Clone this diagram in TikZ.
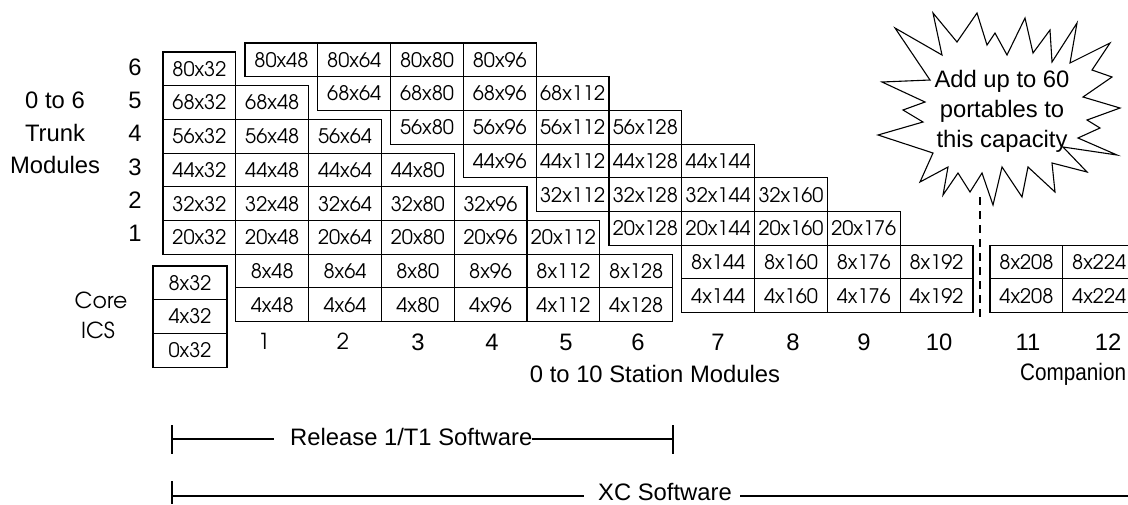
\documentclass[tikz,border=0pt]{standalone}
\usepackage{fontspec}
\usepackage{graphicx}
\setmainfont{Liberation Sans}
\newfontfamily\adv{TeX Gyre Adventor}
\begin{document}
\begin{tikzpicture}[x=1pt,y=-1pt,
  cell/.style={draw, anchor=north west, minimum width=72.8pt, minimum height=33.7pt,
    inner sep=0pt, outer sep=0pt, line width=1.1pt, font=\adv\fontsize{20}{20}\selectfont},
  corecell/.style={cell, minimum width=74pt},
  lab/.style={inner sep=0pt, font=\fontsize{23.8}{30}\selectfont},
  glab/.style={inner sep=0pt, font=\adv\fontsize{22}{30}\selectfont},
  rule/.style={line width=1.1pt}]
\path[use as bounding box] (0,0) rectangle (1128,504);

% left grid
\foreach \i/\r/\jmin/\jmax in {0/80/0/0, 1/68/0/1, 2/56/0/2, 3/44/0/3, 4/32/0/4, 5/20/0/5, 6/8/1/6, 7/4/1/6} {
  \foreach \j in {\jmin,...,\jmax} {
    \pgfmathtruncatemacro{\w}{32+16*\j}
    \node[cell] (n\r-\w) at ({163+72.8*\j},{52+33.7*\i}) {\r x\w};
  }
}
% right grid
\foreach \i/\r/\cmin/\cmax in {0/80/1/4, 1/68/2/5, 2/56/3/6, 3/44/4/7, 4/32/5/8, 5/20/6/9, 6/8/7/10, 7/4/7/10} {
  \foreach \c in {\cmin,...,\cmax} {
    \pgfmathtruncatemacro{\w}{32+16*\c}
    \node[cell] (n\r-\w) at ({245+72.8*(\c-1)},{43+33.7*\i}) {\r x\w};
  }
}
% companion
\foreach \i/\r in {6/8, 7/4} {
  \foreach \k in {0,1} {
    \pgfmathtruncatemacro{\w}{208+16*\k}
    \node[cell] (n\r-\w) at ({990+72.8*\k},{43+33.7*\i}) {\r x\w};
  }
}
% core ICS
\foreach \k/\r in {0/8, 1/4, 2/0} {
  \node[corecell] (core\r) at (153,{266+33.7*\k}) {\r x32};
}

% row labels
\foreach \y/\t in {67/6, 100/5, 133/4, 167/3, 200/2, 233/1} {
  \node[lab] (row\t) at (135,\y) {\t};
}
\node[lab] (trunk1) at (55,100) {0 to 6};
\node[lab] (trunk2) at (55,133) {Trunk};
\node[lab] (trunk3) at (55,165) {Modules};
\node[glab] (coreA) at (101,300) {Core};
\node[glab] (coreB) at (98,330) {ICS};

% column numbers
\node[glab] (col1) at (264,341) {1};
\node[glab] (col2) at (343,341) {2};
\foreach \x/\t in {418/3, 492/4, 566/5, 638/6, 718/7, 793/8, 864/9, 939/10, 1028/11, 1108/12} {
  \node[lab] (col\t) at (\x,342) {\t};
}
\node[lab] (stations) at (655,374) {0 to 10 Station Modules};
\node[lab, anchor=west] (companion) at (1020,374) {\scalebox{0.87}[1]{Companion}};

% dashed separator
\coordinate (dtop) at (980,197);
\coordinate (dbot) at (980,317);
\draw[line width=2pt, dash pattern=on 8pt off 6pt] (dtop) -- (dbot);

% star burst
\draw[line width=1.1pt, line join=miter, fill=white]
 (895,28) -- (942,55) -- (933,13) -- (957,42) -- (977,13) -- (987,45) -- (995,33) -- (1007,55)
 -- (1025,18) -- (1033,53) -- (1050,30) -- (1052,62) -- (1077,23) -- (1070,63) -- (1110,43)
 -- (1092,70) -- (1112,77) -- (1083,97) -- (1120,108) -- (1087,120) -- (1100,128) -- (1078,138)
 -- (1117,155) -- (1063,147) -- (1087,172) -- (1052,163) -- (1055,192) -- (1028,167) -- (1022,197)
 -- (1002,167) -- (993,205) -- (982,173) -- (970,192) -- (958,173) -- (943,195) -- (948,167)
 -- (920,182) -- (933,153) -- (878,135) -- (923,122) -- (903,110) -- (925,102) -- (882,82)
 -- (930,80) -- cycle;
\node[lab, align=center] (startext) at (1002,111) {Add up to 60\\portables to\\this capacity};

% software ranges
\coordinate (rl) at (172,439);
\coordinate (rr) at (673,439);
\coordinate (rlt) at (172,425);
\coordinate (rlb) at (172,454);
\coordinate (rrt) at (673,425);
\coordinate (rrb) at (673,454);
\node[lab, anchor=west] (release) at (290,437) {Release 1/T1 Software};
\draw[rule] (rlt) -- (rlb);
\draw[rule] (rrt) -- (rrb);
\draw[rule] (rl) -- ([xshift=-16pt]release.west |- rl);
\draw[rule] (release.east |- rr) -- (rr);

\coordinate (xl) at (172,496);
\coordinate (xr) at (1128,496);
\coordinate (xlt) at (172,481);
\coordinate (xlb) at (172,504);
\node[lab, anchor=west] (xc) at (598,492) {XC Software};
\draw[rule] (xlt) -- (xlb);
\draw[rule] (xl) -- ([xshift=-14pt]xc.west |- xl);
\draw[rule] ([xshift=8pt]xc.east |- xr) -- (xr);
\end{tikzpicture}
\end{document}
